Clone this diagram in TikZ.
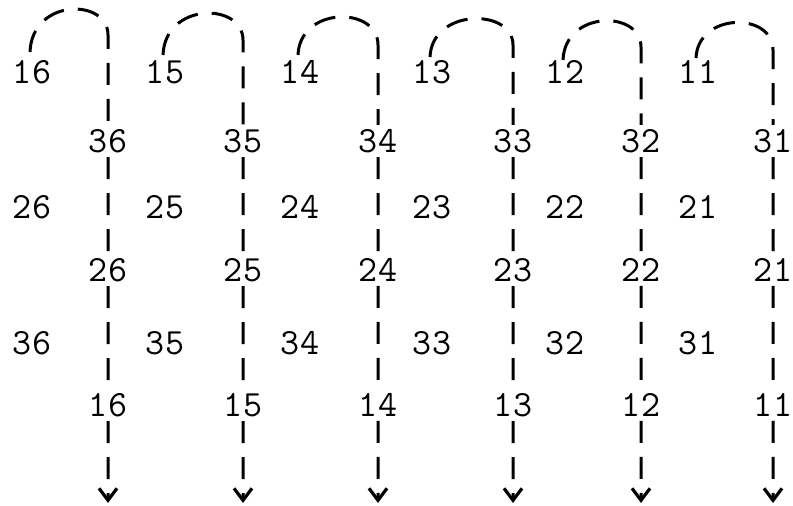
\documentclass[tikz,border=0pt]{standalone}
\usetikzlibrary{arrows.meta}
\begin{document}
\begin{tikzpicture}[x=0.5pt,y=-0.5pt,
  num/.style={font=\fontsize{18.5}{22}\selectfont\ttfamily, inner sep=2pt},
  flow/.style={line width=1.5pt, dash pattern=on 11pt off 7pt,
    -{Straight Barb[length=6pt,width=9pt,line width=1.6pt]}}]
\useasboundingbox (0,0) rectangle (793,506);
\foreach \i/\L/\R/\ys/\yc/\ye in {6/32/108/52/-2/35, 5/165/243/55/2/40, 4/300/378/55/6/45,
    3/432/513/57/8/45, 2/565/641/60/10/47, 1/698/773/58/12/50}{
  \node[num] (l1\i) at (\L,72) {1\i};
  \node[num] (l2\i) at (\L,207) {2\i};
  \node[num] (l3\i) at (\L,343) {3\i};
  \node[num] (r3\i) at (\R,141) {3\i};
  \node[num] (r2\i) at (\R,270) {2\i};
  \node[num] (r1\i) at (\R,405) {1\i};
  \coordinate (s\i) at (\L-2,\ys);
  \coordinate (t\i) at (\R,\ye);
  \coordinate (e\i) at (\R,503);
  \draw[flow] (s\i) .. controls (\L,\yc) and (\R,\yc) .. (t\i)
    -- (r3\i) -- (r2\i) -- (r1\i) -- (e\i);
}
\end{tikzpicture}
\end{document}
